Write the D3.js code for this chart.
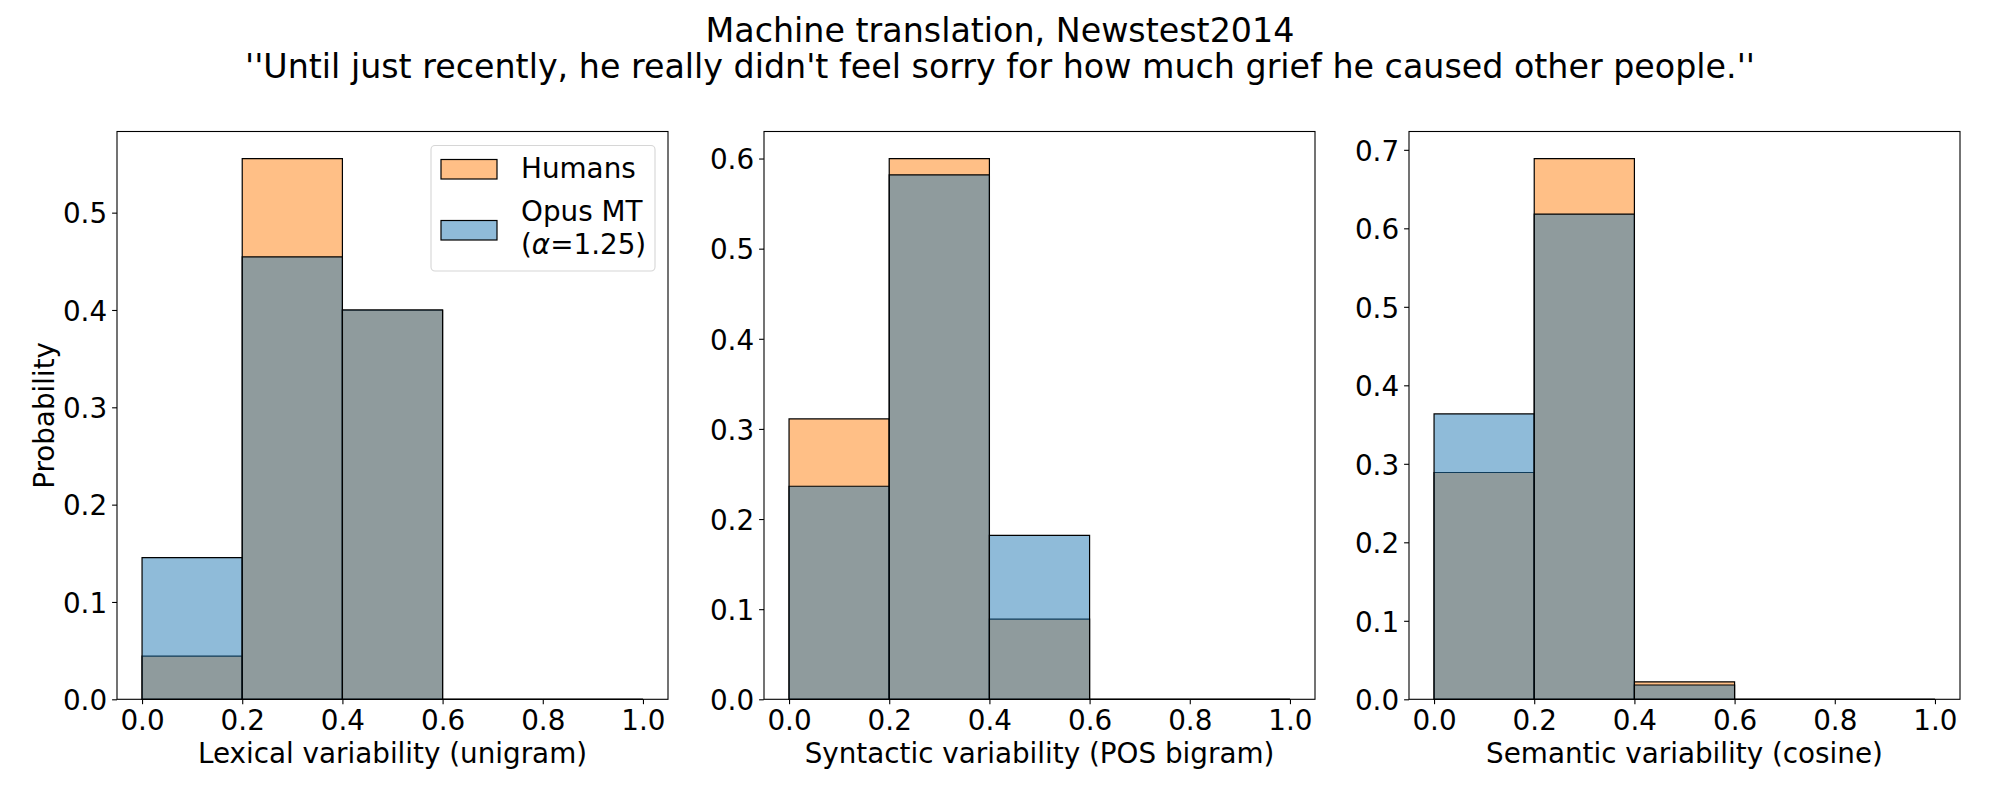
<!DOCTYPE html>
<html>
<head>
<meta charset="utf-8">
<script src="https://cdn.jsdelivr.net/npm/d3@7"></script>
<style>
  html, body { margin: 0; padding: 0; background: #fff; }
  svg { display: block; font-family: "DejaVu Sans", sans-serif; }
</style>
</head>
<body>
<svg id="chart" width="2000" height="800"></svg>
<script>
// ---- data ----
const binEdges = [0, 0.2, 0.4, 0.6, 0.8, 1.0];
const xTicks = [0, 0.2, 0.4, 0.6, 0.8, 1.0];

const humansLexical = [0.0444, 0.5556, 0.4, 0, 0];
const opusLexical   = [0.1455, 0.4545, 0.4, 0, 0];
const humansSyntactic = [0.3111, 0.6, 0.0889, 0, 0];
const opusSyntactic   = [0.2364, 0.5818, 0.1818, 0, 0];
const humansSemantic = [0.2889, 0.6889, 0.0222, 0, 0];
const opusSemantic   = [0.3636, 0.6182, 0.0182, 0, 0];

const yTicksLexical = [0, 0.1, 0.2, 0.3, 0.4, 0.5];
const yTicksSyntactic = [0, 0.1, 0.2, 0.3, 0.4, 0.5, 0.6];
const yTicksSemantic = [0, 0.1, 0.2, 0.3, 0.4, 0.5, 0.6, 0.7];

const xLabels = ["Lexical variability (unigram)", "Syntactic variability (POS bigram)", "Semantic variability (cosine)"];
const seriesNames = ["Humans", "Opus MT"];
const alphaLabel = ["(", "\u03b1", "=1.25)"];
const titleLines = ["Machine translation, Newstest2014",
  "''Until just recently, he really didn't feel sorry for how much grief he caused other people.''"];

// ---- layout ----
const svg = d3.select("#chart");
const FS = 27.8;
const panelLefts = [117, 764, 1409];
const panelW = 551;
const plotTop = 131.5, plotBottom = 699.3;
const humanColor = "rgb(255,127,14)";
const opusColor = "rgb(31,119,180)";

const panels = [
  {h: humansLexical, o: opusLexical, ticks: yTicksLexical, label: xLabels[0]},
  {h: humansSyntactic, o: opusSyntactic, ticks: yTicksSyntactic, label: xLabels[1]},
  {h: humansSemantic, o: opusSemantic, ticks: yTicksSemantic, label: xLabels[2]}
];

// title
svg.append("g").selectAll("text").data(titleLines).join("text")
  .attr("x", 1000)
  .attr("y", (d, i) => [41.7, 78.3][i])
  .attr("text-anchor", "middle")
  .attr("font-size", 33.3)
  .attr("fill", "#000")
  .text(d => d);

panels.forEach((p, pi) => {
  const left = panelLefts[pi], right = left + panelW;
  const ymax = d3.max(p.h.concat(p.o)) * 1.05;
  const x = d3.scaleLinear().domain([-0.05, 1.05]).range([left, right]);
  const y = d3.scaleLinear().domain([0, ymax]).range([plotBottom, plotTop]);
  const g = svg.append("g");

  const bars = (vals, color) => {
    g.append("g").selectAll("path").data(vals).join("path")
      .attr("d", (v, i) => {
        const x0 = x(binEdges[i]), x1 = x(binEdges[i + 1]);
        const y0 = y(0), y1 = y(v);
        return `M${x0},${y0}V${y1}H${x1}V${y0}Z`;
      })
      .attr("fill", color)
      .attr("fill-opacity", 0.5)
      .attr("stroke", "#000")
      .attr("stroke-width", 1.2);
  };
  bars(p.h, humanColor);
  bars(p.o, opusColor);

  // frame
  g.append("rect")
    .attr("x", left).attr("y", plotTop)
    .attr("width", panelW).attr("height", plotBottom - plotTop)
    .attr("fill", "none").attr("stroke", "#000").attr("stroke-width", 1.1);

  // x axis
  const xa = g.append("g").attr("transform", `translate(0,${plotBottom})`)
    .call(d3.axisBottom(x).tickValues(xTicks).tickFormat(d3.format(".1f"))
      .tickSize(4.9).tickSizeOuter(0).tickPadding(6));
  xa.select(".domain").remove();
  xa.selectAll("line").attr("stroke", "#000").attr("stroke-width", 1.1);
  xa.selectAll("text").attr("font-size", FS).attr("font-family", "DejaVu Sans").attr("fill", "#000");

  // y axis
  const ya = g.append("g").attr("transform", `translate(${left},0)`)
    .call(d3.axisLeft(y).tickValues(p.ticks).tickFormat(d3.format(".1f"))
      .tickSize(4.9).tickSizeOuter(0).tickPadding(5));
  ya.select(".domain").remove();
  ya.selectAll("line").attr("stroke", "#000").attr("stroke-width", 1.1);
  ya.selectAll("text").attr("font-size", FS).attr("font-family", "DejaVu Sans").attr("fill", "#000")
    .attr("dy", "0.37em");

  // x label
  g.append("text")
    .attr("x", (left + right) / 2).attr("y", 763)
    .attr("text-anchor", "middle").attr("font-size", FS).attr("fill", "#000")
    .text(p.label);

  if (pi === 0) {
    g.append("text")
      .attr("transform", `translate(54,${(plotTop + plotBottom) / 2}) rotate(-90)`)
      .attr("text-anchor", "middle").attr("font-size", FS).attr("fill", "#000")
      .text("Probability");

    // legend
    const lg = g.append("g");
    lg.append("rect")
      .attr("x", 431).attr("y", 145.5).attr("width", 224).attr("height", 125.5)
      .attr("rx", 4).attr("ry", 4)
      .attr("fill", "#fff").attr("stroke", "#d6d6d6").attr("stroke-width", 1.1);
    const items = [
      {color: humanColor, py: 159.5},
      {color: opusColor, py: 220.5}
    ];
    items.forEach(it => {
      lg.append("rect")
        .attr("x", 441).attr("y", it.py).attr("width", 56).attr("height", 19.5)
        .attr("fill", it.color).attr("fill-opacity", 0.5)
        .attr("stroke", "#000").attr("stroke-width", 1.2);
    });
    lg.append("text").attr("x", 521).attr("y", 178)
      .attr("font-size", FS).attr("fill", "#000").text(seriesNames[0]);
    lg.append("text").attr("x", 521).attr("y", 220.5)
      .attr("font-size", FS).attr("fill", "#000").text(seriesNames[1]);
    const t3 = lg.append("text").attr("x", 521).attr("y", 254)
      .attr("font-size", FS).attr("fill", "#000");
    t3.append("tspan").text(alphaLabel[0]);
    t3.append("tspan").attr("font-style", "italic").text(alphaLabel[1]);
    t3.append("tspan").text(alphaLabel[2]);
  }
});
</script>
</body>
</html>
